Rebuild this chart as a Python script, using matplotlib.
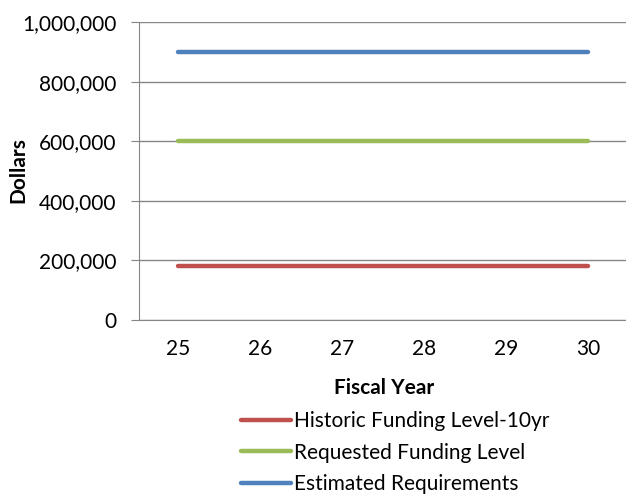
import matplotlib.pyplot as plt
from matplotlib.ticker import FuncFormatter

plt.rcParams['font.family'] = ['Lato', 'DejaVu Sans']

years = [25, 26, 27, 28, 29, 30]
historic = [180000, 180000, 180000, 180000, 180000, 180000]
requested = [600000, 600000, 600000, 600000, 600000, 600000]
estimated = [900000, 900000, 900000, 900000, 900000, 900000]

W, H = 626, 494
fig = plt.figure(figsize=(W / 100, H / 100), dpi=100)
ax = fig.add_axes([139 / W, 174 / H, 490 / W, 298 / H])

ax.plot(years, historic, color='#C0504D', lw=3.2, solid_capstyle='round', label='Historic Funding Level-10yr')
ax.plot(years, requested, color='#9BBB59', lw=3.2, solid_capstyle='round', label='Requested Funding Level')
ax.plot(years, estimated, color='#4F81BD', lw=3.2, solid_capstyle='round', label='Estimated Requirements')

ax.set_xlim(24.524, 30.5)
ax.set_ylim(0, 1000000)
ax.set_yticks(range(0, 1000001, 200000))
ax.set_xticks(years)
ax.yaxis.set_major_formatter(FuncFormatter(lambda v, p: '{:,.0f}'.format(v)))
ax.grid(axis='y', color='#868686', lw=1)
ax.set_axisbelow(True)

for s in ['top', 'right']:
    ax.spines[s].set_visible(False)
for s in ['left', 'bottom']:
    ax.spines[s].set_color('#868686')
ax.tick_params(axis='y', length=6, color='#868686', labelsize=15, pad=10)
ax.tick_params(axis='x', length=0, labelsize=15, pad=14)

ax.set_xlabel('Fiscal Year', fontsize=15, fontweight='bold', labelpad=13)
fig.text(18 / W, 1 - 170 / H, 'Dollars', fontsize=15, fontweight='bold',
         rotation=90, ha='center', va='center')

fig.legend(loc='upper left', bbox_to_anchor=(233 / W, 1 - 403 / H), frameon=False,
           fontsize=15, handlelength=2.4, handletextpad=0.15, labelspacing=0.55,
           borderaxespad=0)

fig.savefig('out.png', dpi=100)
